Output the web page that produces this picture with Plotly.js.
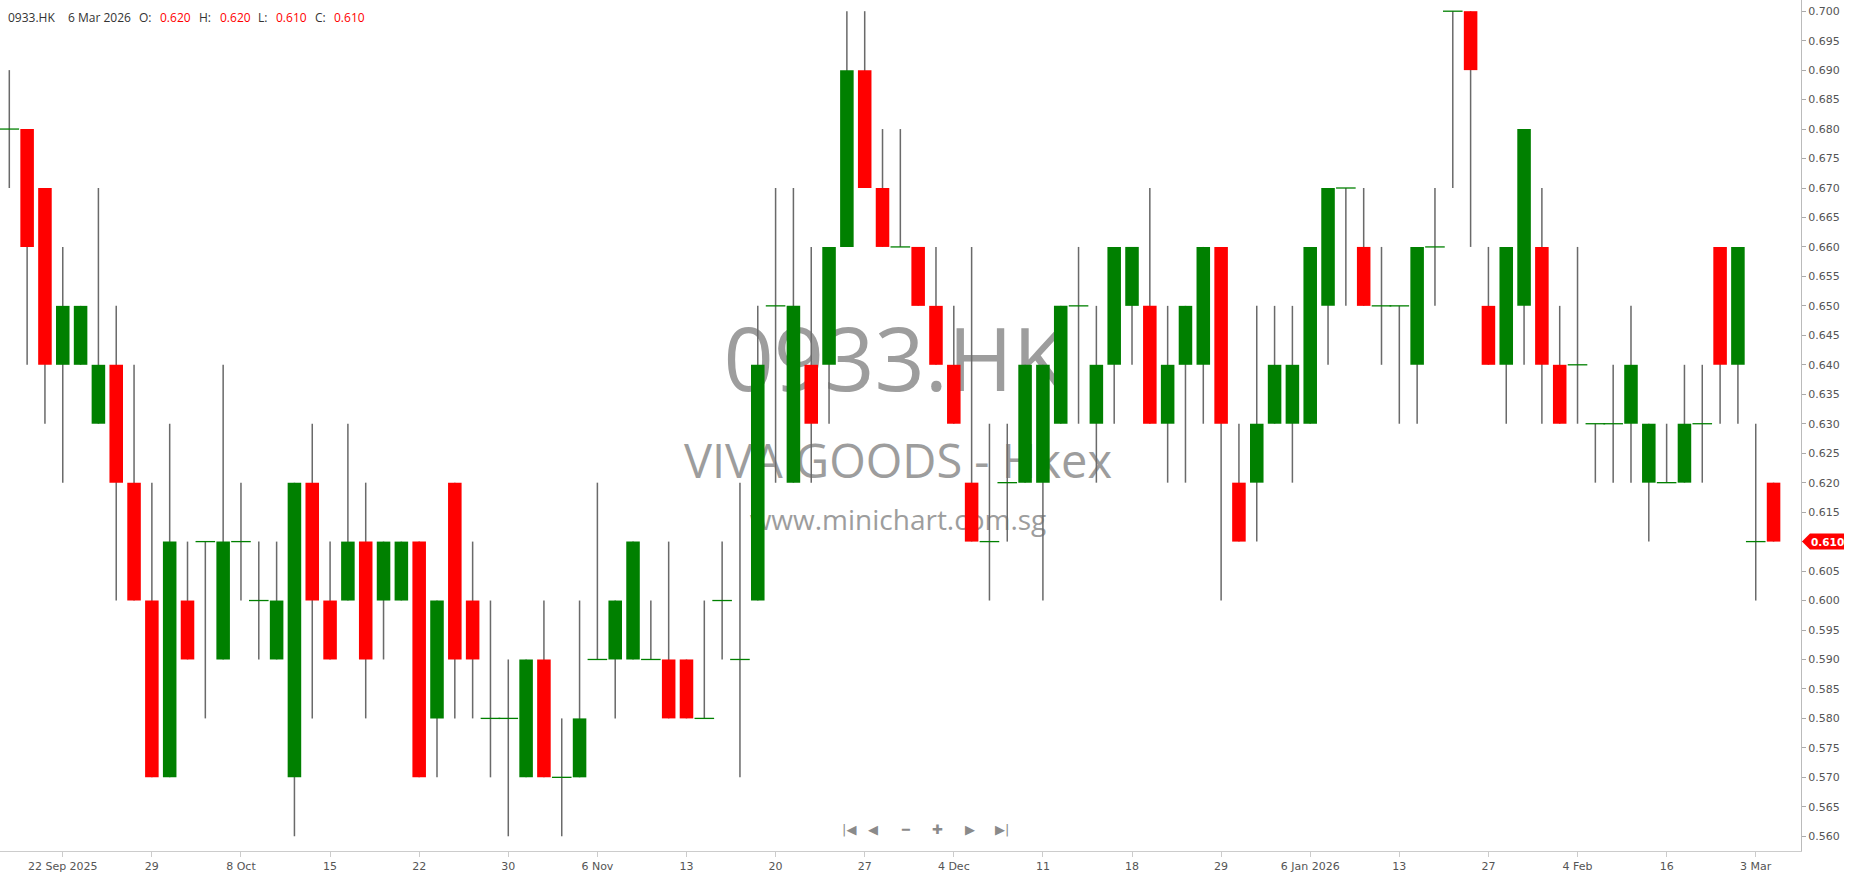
<!DOCTYPE html>
<html>
<head>
<meta charset="utf-8">
<script src="https://cdn.plot.ly/plotly-3.0.1.min.js"></script>
<style>
html,body{margin:0;padding:0;background:#ffffff;}
#chart{width:1850px;height:874px;}
</style>
</head>
<body>
<div id="chart"></div>
<script>
// ---- data ----
const symbol = '0933.HK';
const companyName = 'VIVA GOODS - Hkex';
const website = 'www.minichart.com.sg';
const lastDate = '6 Mar 2026';

const openP = [
  0.68,0.68,0.67,0.64,0.64,0.63,0.64,0.62,0.60,0.57,
  0.60,0.61,0.59,0.61,0.60,0.59,0.57,0.62,0.60,0.60,
  0.61,0.60,0.60,0.61,0.58,0.62,0.60,0.58,0.58,0.57,
  0.59,0.57,0.57,0.59,0.59,0.59,0.59,0.59,0.59,0.58,
  0.60,0.59,0.60,0.65,0.62,0.64,0.64,0.66,0.69,0.67,
  0.66,0.66,0.65,0.64,0.62,0.61,0.62,0.62,0.62,0.63,
  0.65,0.63,0.64,0.65,0.65,0.63,0.64,0.64,0.66,0.62,
  0.62,0.63,0.63,0.63,0.65,0.67,0.66,0.65,0.65,0.64,
  0.66,0.70,0.70,0.65,0.64,0.65,0.66,0.64,0.64,0.63,
  0.63,0.63,0.62,0.62,0.62,0.63,0.66,0.64,0.61,0.62
];
const highP = [
  0.69,0.68,0.67,0.66,0.65,0.67,0.65,0.64,0.62,0.63,
  0.61,0.61,0.64,0.62,0.61,0.61,0.62,0.63,0.61,0.63,
  0.62,0.61,0.61,0.61,0.60,0.62,0.61,0.60,0.59,0.59,
  0.60,0.58,0.60,0.62,0.60,0.61,0.60,0.61,0.59,0.60,
  0.61,0.62,0.65,0.67,0.67,0.66,0.66,0.70,0.70,0.68,
  0.68,0.66,0.66,0.65,0.66,0.63,0.63,0.64,0.64,0.65,
  0.66,0.65,0.66,0.66,0.67,0.65,0.65,0.66,0.66,0.63,
  0.65,0.65,0.65,0.66,0.67,0.67,0.67,0.66,0.65,0.66,
  0.67,0.70,0.70,0.66,0.66,0.68,0.67,0.65,0.66,0.63,
  0.64,0.65,0.63,0.63,0.64,0.64,0.66,0.66,0.63,0.62
];
const lowP = [
  0.67,0.64,0.63,0.62,0.64,0.63,0.60,0.60,0.57,0.57,
  0.59,0.58,0.59,0.60,0.59,0.59,0.56,0.58,0.59,0.60,
  0.58,0.59,0.60,0.57,0.57,0.58,0.58,0.57,0.56,0.57,
  0.57,0.56,0.57,0.59,0.58,0.59,0.59,0.58,0.58,0.58,
  0.59,0.57,0.60,0.62,0.62,0.62,0.63,0.66,0.67,0.66,
  0.66,0.65,0.64,0.63,0.61,0.60,0.61,0.62,0.60,0.63,
  0.63,0.62,0.63,0.64,0.63,0.62,0.62,0.63,0.60,0.61,
  0.61,0.63,0.62,0.63,0.64,0.65,0.65,0.64,0.63,0.63,
  0.65,0.67,0.66,0.64,0.63,0.64,0.63,0.63,0.63,0.62,
  0.62,0.62,0.61,0.62,0.62,0.62,0.63,0.63,0.60,0.61
];
const closeP = [
  0.68,0.66,0.64,0.65,0.65,0.64,0.62,0.60,0.57,0.61,
  0.59,0.61,0.61,0.61,0.60,0.60,0.62,0.60,0.59,0.61,
  0.59,0.61,0.61,0.57,0.60,0.59,0.59,0.58,0.58,0.59,
  0.57,0.57,0.58,0.59,0.60,0.61,0.59,0.58,0.58,0.58,
  0.60,0.59,0.64,0.65,0.65,0.63,0.66,0.69,0.67,0.66,
  0.66,0.65,0.64,0.63,0.61,0.61,0.62,0.64,0.64,0.65,
  0.65,0.64,0.66,0.66,0.63,0.64,0.65,0.66,0.63,0.61,
  0.63,0.64,0.64,0.66,0.67,0.67,0.65,0.65,0.65,0.66,
  0.66,0.70,0.69,0.64,0.66,0.68,0.64,0.63,0.64,0.63,
  0.63,0.64,0.63,0.62,0.63,0.63,0.64,0.66,0.61,0.61
];
const tickIndex = [3,8,13,18,23,28,33,38,43,48,53,58,63,68,73,78,83,88,93,98];
const tickLabels = ['22 Sep 2025','29','8 Oct','15','22','30','6 Nov','13','20','27',
                    '4 Dec','11','18','29','6 Jan 2026','13','27','4 Feb','16','3 Mar'];
const priceTickStep = 0.005;
const priceTickFirst = 0.560;
const priceTickLast = 0.700;

// ---- styling ----
const GREEN = '#008000', RED = '#ff0000', WICK = '#6a6a6a';
const Y_RANGE = [0.5575, 0.7019];
const X_RANGE = [-0.522, 100.54];
const PLOT_W = 1801, PLOT_H = 851;

const idx = openP.map((_, i) => i);
const bodyBase = idx.map(i => Math.min(openP[i], closeP[i]));
const bodyH = idx.map(i => Math.abs(closeP[i] - openP[i]));
const bodyColor = idx.map(i => closeP[i] >= openP[i] ? GREEN : RED);
const wickH = idx.map(i => highP[i] - lowP[i]);
const dojiIdx = idx.filter(i => closeP[i] === openP[i]);

const last = openP.length - 1;
const fmt = v => v.toFixed(3);

// price ticks; the one under the last-price tag is covered in the reference
const nTicks = Math.round((priceTickLast - priceTickFirst) / priceTickStep) + 1;
const priceTicks = Array.from({length: nTicks}, (_, k) => +(priceTickFirst + k * priceTickStep).toFixed(3));
const priceTickText = priceTicks.map(v => Math.abs(v - closeP[last]) < 1e-9 ? '' : fmt(v));

const traces = [
  // watermark on hidden background axes (drawn beneath the candles)
  {
    type: 'scatter', mode: 'text', xaxis: 'x', yaxis: 'y',
    x: [0.497, 0.4986, 0.4986], y: [0.566, 0.452, 0.386],
    text: [symbol, companyName, website],
    textposition: 'middle center',
    textfont: {family: 'Open Sans', size: [88, 47, 28], color: '#9d9d9d'},
    hoverinfo: 'skip'
  },
  // wicks
  {
    type: 'bar', xaxis: 'x2', yaxis: 'y2',
    x: idx, y: wickH, base: lowP, width: 0.085,
    marker: {color: WICK, line: {width: 0}}, hoverinfo: 'skip'
  },
  // bodies
  {
    type: 'bar', xaxis: 'x2', yaxis: 'y2',
    x: idx, y: bodyH, base: bodyBase, width: 0.76,
    marker: {color: bodyColor, line: {width: 0}}, hoverinfo: 'skip'
  },
  // doji dashes
  {
    type: 'scatter', mode: 'markers', xaxis: 'x2', yaxis: 'y2',
    x: dojiIdx, y: dojiIdx.map(i => closeP[i]),
    marker: {symbol: 'line-ew', size: 14, color: GREEN, line: {color: GREEN, width: 1.3}},
    hoverinfo: 'skip'
  }
];

const headerFont = {family: 'Open Sans', size: 12, color: '#333333'};
const headerRed = {family: 'Open Sans', size: 12, color: '#ff0000'};
const hy = 1 - 17 / PLOT_H;
const headerParts = [
  [6, symbol, headerFont], [66, lastDate, headerFont],
  [137, 'O:', headerFont], [158, fmt(openP[last]), headerRed],
  [197, 'H:', headerFont], [218, fmt(highP[last]), headerRed],
  [256, 'L:', headerFont], [274, fmt(lowP[last]), headerRed],
  [313, 'C:', headerFont], [332, fmt(closeP[last]), headerRed]
];
const annotations = headerParts.map(p => ({
  xref: 'paper', yref: 'paper', x: p[0] / PLOT_W, y: hy,
  xanchor: 'left', yanchor: 'middle', showarrow: false, text: p[1], font: p[2]
}));

// navigation icons
const navY = 1 - 829 / PLOT_H;
[[849, '|◀'], [873, '◀'], [905, '━'], [937, '✚'], [970, '▶'], [1002, '▶|']].forEach(n => {
  annotations.push({
    xref: 'paper', yref: 'paper', x: n[0] / PLOT_W, y: navY,
    xanchor: 'center', yanchor: 'middle', showarrow: false, text: n[1],
    font: {family: 'DejaVu Sans', size: 13, color: '#8a8a8a'}
  });
});

// last price tag
const lastPaperY = (closeP[last] - Y_RANGE[0]) / (Y_RANGE[1] - Y_RANGE[0]);
const halfH = 8 / PLOT_H;
const xTip = 1802 / PLOT_W, xBox = 1810 / PLOT_W, xEnd = 1844 / PLOT_W;
annotations.push({
  xref: 'paper', yref: 'paper', x: 1827 / PLOT_W, y: lastPaperY,
  xanchor: 'center', yanchor: 'middle', showarrow: false, text: '<b>' + fmt(closeP[last]) + '</b>',
  font: {family: 'DejaVu Sans', size: 10.5, color: '#ffffff'}
});
const shapes = [{
  type: 'path', xref: 'paper', yref: 'paper', layer: 'above',
  path: `M ${xTip} ${lastPaperY} L ${xBox} ${lastPaperY + halfH} L ${xEnd} ${lastPaperY + halfH} L ${xEnd} ${lastPaperY - halfH} L ${xBox} ${lastPaperY - halfH} Z`,
  fillcolor: RED, line: {width: 0}
}];

const tickFont = {family: 'DejaVu Sans', size: 11, color: '#555555'};
const layout = {
  width: 1850, height: 874,
  margin: {l: 0, r: 49, t: 0, b: 23, pad: 0},
  paper_bgcolor: '#ffffff', plot_bgcolor: '#ffffff',
  showlegend: false, hovermode: false, barmode: 'overlay',
  xaxis: {visible: false, range: [0, 1], fixedrange: true},
  yaxis: {visible: false, range: [0, 1], fixedrange: true},
  xaxis2: {
    overlaying: 'x', anchor: 'y2', range: X_RANGE, fixedrange: true,
    tickmode: 'array', tickvals: tickIndex, ticktext: tickLabels,
    ticks: 'outside', ticklen: 5, tickcolor: '#cccccc', tickwidth: 1,
    showline: true, linecolor: '#cccccc', linewidth: 1,
    showgrid: false, zeroline: false, tickfont: tickFont
  },
  yaxis2: {
    overlaying: 'y', anchor: 'x2', side: 'right', range: Y_RANGE, fixedrange: true,
    tickmode: 'array', tickvals: priceTicks, ticktext: priceTickText,
    ticks: 'outside', ticklen: 4, tickcolor: '#aaaaaa', tickwidth: 1,
    showline: true, linecolor: '#bbbbbb', linewidth: 1,
    showgrid: false, zeroline: false, tickfont: tickFont
  },
  annotations: annotations,
  shapes: shapes
};

Plotly.newPlot('chart', traces, layout, {displayModeBar: false, staticPlot: true});
</script>
</body>
</html>
